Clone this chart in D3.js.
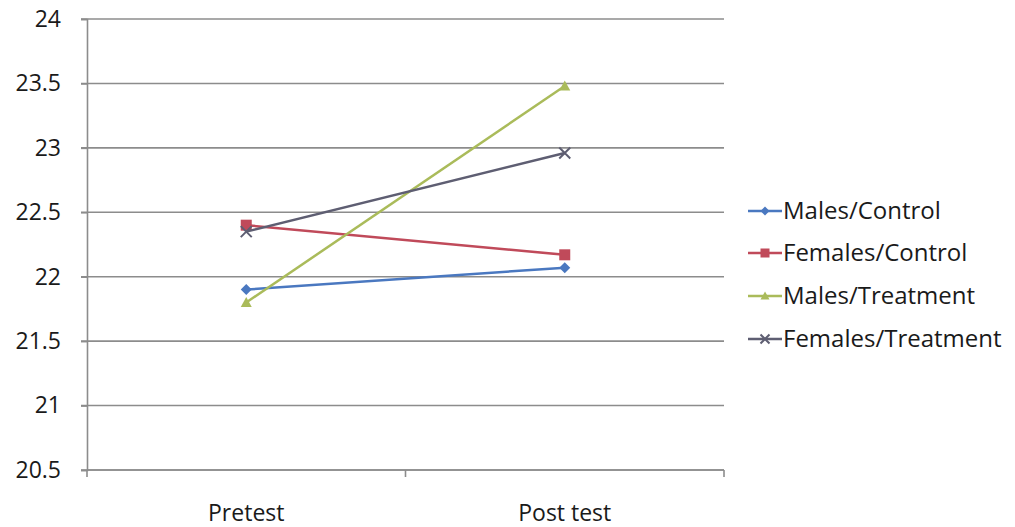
<!DOCTYPE html>
<html>
<head>
<meta charset="utf-8">
<script src="https://cdn.jsdelivr.net/npm/d3@7/dist/d3.min.js"></script>
<style>
  html, body { margin: 0; padding: 0; background: #fff; }
  svg { display: block; }
  text { font-family: "Open Sans", "Liberation Sans", sans-serif; fill: #1a1a1a; }
</style>
</head>
<body>
<svg id="chart" width="1015" height="527"></svg>
<script>
// Test phases along the x axis
const phases = ["Pretest", "Post test"];

// Group means per phase
const malesControl = [21.90, 22.07];
const femalesControl = [22.40, 22.17];
const malesTreatment = [21.80, 23.48];
const femalesTreatment = [22.35, 22.96];

const seriesNames = ["Males/Control", "Females/Control", "Males/Treatment", "Females/Treatment"];
const yTicks = [20.5, 21, 21.5, 22, 22.5, 23, 23.5, 24];

const seriesValues = [malesControl, femalesControl, malesTreatment, femalesTreatment];
const colors = ["#4a78c0", "#c04a5a", "#aabb5a", "#5e5e72"];
const markers = ["diamond", "square", "triangle", "cross"];

const svg = d3.select("#chart");
const plotLeft = 87, plotRight = 724, plotTop = 19, plotBottom = 470;

const x = d3.scaleBand().domain(phases).range([plotLeft, plotRight]);
const y = d3.scaleLinear().domain([20.5, 24]).range([plotBottom, plotTop]);

// Horizontal gridlines
svg.append("g")
  .selectAll("line")
  .data(yTicks)
  .join("line")
  .attr("x1", plotLeft - 6).attr("x2", plotRight)
  .attr("y1", d => y(d)).attr("y2", d => y(d))
  .attr("stroke", "#8c8c8c").attr("stroke-width", 1.6);

// Y axis
const yAxis = svg.append("g")
  .attr("transform", `translate(${plotLeft},0)`)
  .call(d3.axisLeft(y).tickValues(yTicks).tickSize(6).tickPadding(20).tickFormat(d => String(d)));
yAxis.select(".domain").attr("stroke", "#8c8c8c").attr("stroke-width", 1.6);
yAxis.selectAll(".tick line").attr("stroke", "#8c8c8c").attr("stroke-width", 1.6);
yAxis.selectAll(".tick text").attr("font-size", 23).attr("fill", "#1a1a1a");

// X axis with ticks between categories
const xAxis = svg.append("g").attr("transform", `translate(0,${plotBottom})`);
xAxis.append("line").attr("x1", plotLeft).attr("x2", plotRight).attr("y1", 0).attr("y2", 0)
  .attr("stroke", "#8c8c8c").attr("stroke-width", 1.6);
const boundaries = phases.map(p => x(p)).concat([plotRight]);
xAxis.selectAll("line.tk").data(boundaries).join("line").attr("class", "tk")
  .attr("x1", d => d).attr("x2", d => d).attr("y1", 0).attr("y2", 7)
  .attr("stroke", "#8c8c8c").attr("stroke-width", 1.6);
xAxis.selectAll("text").data(phases).join("text")
  .attr("x", d => x(d) + x.bandwidth() / 2).attr("y", 51)
  .attr("text-anchor", "middle").attr("font-size", 23).attr("fill", "#1a1a1a")
  .text(d => d);

function drawMarker(g, type, cx, cy, color, s) {
  if (type === "diamond") {
    g.append("path").attr("d", `M${cx},${cy - s}L${cx + s},${cy}L${cx},${cy + s}L${cx - s},${cy}Z`).attr("fill", color);
  } else if (type === "square") {
    g.append("rect").attr("x", cx - s).attr("y", cy - s).attr("width", 2 * s).attr("height", 2 * s).attr("fill", color);
  } else if (type === "triangle") {
    g.append("path").attr("d", `M${cx},${cy - s}L${cx + s},${cy + s * 0.8}L${cx - s},${cy + s * 0.8}Z`).attr("fill", color);
  } else {
    g.append("path").attr("d", `M${cx - s},${cy - s}L${cx + s},${cy + s}M${cx + s},${cy - s}L${cx - s},${cy + s}`)
      .attr("stroke", color).attr("stroke-width", 2);
  }
}

const line = d3.line()
  .x((d, i) => x(phases[i]) + x.bandwidth() / 2)
  .y(d => y(d));

seriesValues.forEach((vals, k) => {
  const g = svg.append("g");
  g.append("path").datum(vals).attr("d", line)
    .attr("fill", "none").attr("stroke", colors[k]).attr("stroke-width", 2.5);
  vals.forEach((v, i) => {
    drawMarker(g, markers[k], x(phases[i]) + x.bandwidth() / 2, y(v), colors[k], 5.5);
  });
});

// Legend
const legendY = [211, 253, 296, 339];
seriesNames.forEach((name, k) => {
  const g = svg.append("g");
  g.append("line").attr("x1", 748).attr("x2", 782).attr("y1", legendY[k]).attr("y2", legendY[k])
    .attr("stroke", colors[k]).attr("stroke-width", 2.5);
  drawMarker(g, markers[k], 765, legendY[k], colors[k], 4.5);
  g.append("text").attr("x", 783).attr("y", legendY[k] + 8)
    .attr("font-size", 24).attr("fill", "#1a1a1a").text(name);
});
</script>
</body>
</html>
